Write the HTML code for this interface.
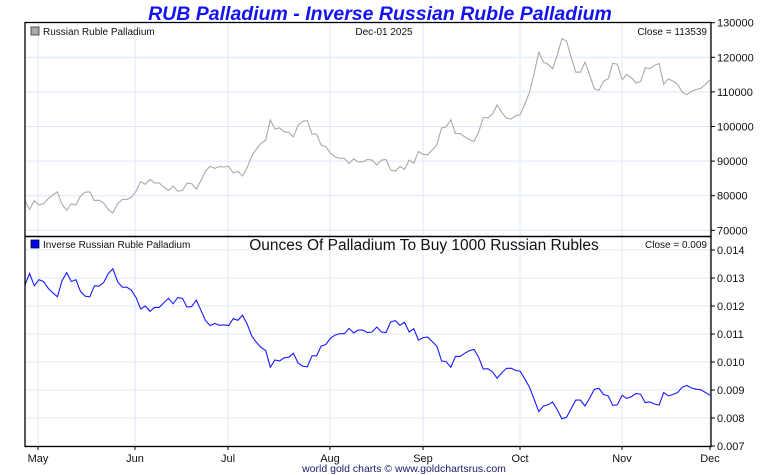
<!DOCTYPE html>
<html><head><meta charset="utf-8">
<style>
html,body{margin:0;padding:0;background:#fff;}
svg{display:block;font-family:"Liberation Sans",sans-serif;}
</style></head>
<body>
<svg id="c" width="760" height="475" viewBox="0 0 760 475">
<text x="380" y="20" text-anchor="middle" font-size="19.5" font-weight="bold" font-style="italic" fill="#1414f0">RUB Palladium - Inverse Russian Ruble Palladium</text>
<g id="grid"></g>
<g id="series"></g>
<rect x="25" y="22.5" width="686" height="214" fill="none" stroke="#000" stroke-width="1.3"/>
<rect x="25" y="236.5" width="686" height="210" fill="none" stroke="#000" stroke-width="1.3"/>
<g id="axes" font-size="11" fill="#111"></g>
<rect x="31" y="27" width="8" height="8" fill="#aaa" stroke="#333" stroke-width="0.8"/>
<text x="43" y="35" font-size="10" fill="#111">Russian Ruble Palladium</text>
<text x="384" y="35" font-size="10" text-anchor="middle" fill="#111">Dec-01  2025</text>
<text x="707" y="35" font-size="10" text-anchor="end" fill="#111">Close = 113539</text>
<rect x="31" y="240" width="8" height="8" fill="#0000ee" stroke="#000033" stroke-width="0.8"/>
<text x="43" y="248" font-size="10" fill="#111">Inverse Russian Ruble Palladium</text>
<text x="424" y="250" font-size="15.5" text-anchor="middle" fill="#111">Ounces Of Palladium To Buy 1000 Russian Rubles</text>
<text x="707" y="248" font-size="10" text-anchor="end" fill="#111">Close = 0.009</text>
<text x="404" y="472" font-size="10.5" text-anchor="middle" fill="#1a1a6e">world gold charts © www.goldchartsrus.com</text>
</svg>
<script>
const monthLabels=["May","Jun","Jul","Aug","Sep","Oct","Nov","Dec"];
const monthX=[38,135,228,330,423,520,622,710];
const priceTicks=[70000,80000,90000,100000,110000,120000,130000];
const inverseTicks=[0.007,0.008,0.009,0.010,0.011,0.012,0.013,0.014];
const inverseTickLabels=["0.007","0.008","0.009","0.010","0.011","0.012","0.013","0.014"];
const price=[78400,76000,78600,77300,77700,79100,80200,81100,77500,75800,77700,77300,79900,81000,81100,78600,78700,77900,76000,75000,77700,78900,78900,79600,81300,84100,83300,84700,83700,83700,82500,81500,82800,81300,81500,83600,83500,81900,84400,87100,88500,87900,88400,88300,88500,86600,87000,85700,88100,91500,93500,95100,96100,101900,99300,99600,98500,98300,97000,100400,101500,101700,97800,97800,94600,94200,92200,91200,90800,90800,89300,90600,89800,89800,
90500,90300,88900,90300,90500,87500,87100,88400,87600,90300,89400,92800,92000,91800,93200,94700,99600,99900,101900,98000,98000,97000,96200,95700,98300,102600,102500,103600,106200,104100,102400,102200,103100,103400,106500,109900,115300,121500,118600,118000,116700,120600,125400,124700,120100,115700,115700,118600,114800,110900,110400,113100,113800,118300,118000,113500,115000,114100,112600,113000,117000,116700,117700,118200,112200,113800,113100,112200,109900,109200,110200,110700,111000,112200,113539];
const inverse=[0.01276,0.01316,0.01272,0.01294,0.01287,0.01264,0.01247,0.01233,0.01290,0.01319,0.01287,0.01294,0.01252,0.01235,0.01233,0.01272,0.01271,0.01284,0.01316,0.01333,0.01287,0.01267,0.01267,0.01256,0.01230,0.01189,0.01200,0.01181,0.01195,0.01195,0.01212,0.01227,0.01208,0.01230,0.01227,0.01196,0.01198,0.01221,0.01185,0.01148,0.01130,0.01138,0.01131,0.01133,0.01130,0.01155,0.01149,0.01167,0.01135,0.01093,0.01070,0.01052,0.01041,0.00981,0.01007,0.01004,0.01015,0.01017,0.01031,0.00996,0.00985,0.00983,0.01022,0.01022,0.01057,0.01062,0.01085,0.01096,0.01101,0.01101,0.01120,0.01104,0.01114,0.01114,
0.01105,0.01107,0.01125,0.01107,0.01105,0.01143,0.01148,0.01131,0.01142,0.01107,0.01119,0.01078,0.01087,0.01089,0.01073,0.01056,0.01004,0.01001,0.00981,0.01020,0.01020,0.01031,0.01040,0.01045,0.01017,0.00975,0.00976,0.00965,0.00942,0.00961,0.00977,0.00978,0.00970,0.00967,0.00939,0.00910,0.00867,0.00823,0.00843,0.00847,0.00857,0.00829,0.00797,0.00802,0.00833,0.00864,0.00864,0.00843,0.00871,0.00902,0.00906,0.00884,0.00879,0.00845,0.00847,0.00881,0.00870,0.00876,0.00888,0.00885,0.00855,0.00857,0.00850,0.00846,0.00891,0.00879,0.00884,0.00891,0.00910,0.00916,0.00907,0.00903,0.00901,0.00891,0.00881];

const NS="http://www.w3.org/2000/svg";
const X0=25,X1=710;
function xAt(i,n){return X0+(X1-X0)*i/(n-1);}
function yPrice(v){return 230.3-(v-70000)/10000*34.6;}
function yInv(v){return 446-(v-0.007)/0.001*28;}
function mk(tag,attrs,parent){const e=document.createElementNS(NS,tag);for(const k in attrs)e.setAttribute(k,attrs[k]);parent.appendChild(e);return e;}
const grid=document.getElementById('grid'),axes=document.getElementById('axes'),series=document.getElementById('series');
monthX.forEach((x,i)=>{
  const l1=mk('line',{x1:x,x2:x,y1:23,y2:446,stroke:'#dce9f6','stroke-width':1},grid);
  
  
  const tk=mk('line',{x1:x,x2:x,y1:446,y2:450,stroke:'#000'},axes);
  
  
  const t=mk('text',{x:x,y:462,'text-anchor':'middle'},axes);
  t.textContent=monthLabels[i];
  
  
});
priceTicks.forEach(v=>{
  const y=yPrice(v);
  if(v<130000){const g=mk('line',{x1:25,x2:711,y1:y,y2:y,stroke:'#dce9f6'},grid);
  
  }
  const tk=mk('line',{x1:711,x2:715,y1:y,y2:y,stroke:'#000'},axes);
  
  
  const t=mk('text',{x:717,y:y+4},axes);
  t.textContent=v;
  
  
});
inverseTicks.forEach((v,i)=>{
  const y=yInv(v);
  const g=mk('line',{x1:25,x2:711,y1:y,y2:y,stroke:'#dce9f6'},grid);
  
  
  const tk=mk('line',{x1:711,x2:715,y1:y,y2:y,stroke:'#000'},axes);
  
  
  const t=mk('text',{x:717,y:y+4},axes);
  t.textContent=inverseTickLabels[i];
  
  
});
const pp=price.map((v,i)=>xAt(i,price.length).toFixed(1)+','+yPrice(v).toFixed(1)).join(' ');
const pl=mk('polyline',{points:pp,fill:'none',stroke:'#aaaaaa','stroke-width':1.1},series);


const ip=inverse.map((v,i)=>xAt(i,inverse.length).toFixed(1)+','+yInv(v).toFixed(1)).join(' ');
const il=mk('polyline',{points:ip,fill:'none',stroke:'#1a1aff','stroke-width':1.1},series);


</script>
</body></html>
